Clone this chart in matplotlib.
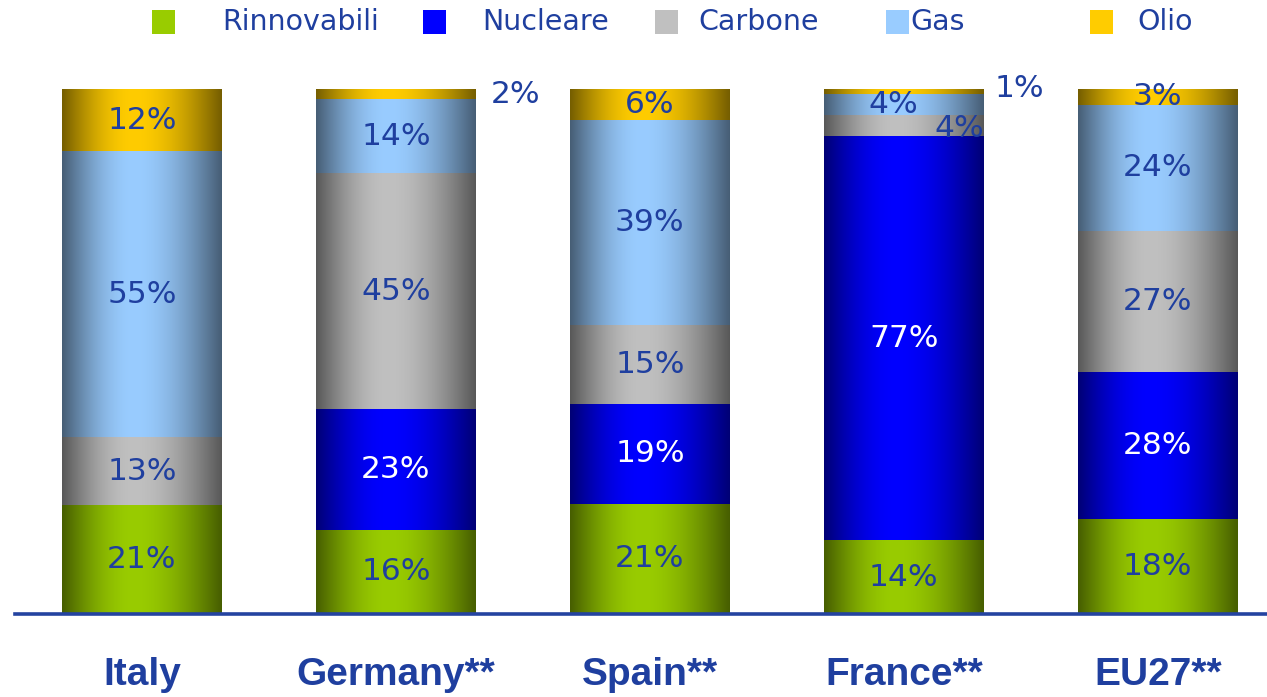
import numpy as np
import matplotlib
matplotlib.use("Agg")
import matplotlib.pyplot as plt
from matplotlib.colors import to_rgb
from matplotlib.patches import Rectangle

# ---------------- data ----------------
countries = ["Italy", "Germany**", "Spain**", "France**", "EU27**"]
series = ["Rinnovabili", "Nucleare", "Carbone", "Gas", "Olio"]
rinnovabili = [21, 16, 21, 14, 18]
nucleare = [0, 23, 19, 77, 28]
carbone = [13, 45, 15, 4, 27]
gas = [55, 14, 39, 4, 24]
olio = [12, 2, 6, 1, 3]
colors = ["#99cc00", "#0000ff", "#c0c0c0", "#99ccff", "#ffcc00"]
label_colors = ["#1f3f9f", "#ffffff", "#1f3f9f", "#1f3f9f", "#1f3f9f"]

values = np.array([rinnovabili, nucleare, carbone, gas, olio], dtype=float)
totals = values.sum(axis=0)
shares = values / totals * 100.0  # normalise each bar to full height

# label offsets (data units) for small segments: (series idx, country idx) -> (dx, dy)
label_offsets = {(4, 1): (0.47, 0.0), (4, 3): (0.455, 0.6), (2, 3): (0.22, -0.5),
                 (3, 3): (-0.04, 0.0)}

TXT = "#1f3f9f"

fig = plt.figure(figsize=(12.67, 6.97), dpi=100)
ax = fig.add_axes([15 / 1267, 83 / 697, 1252 / 1267, 525 / 697])
ax.set_xlim(-0.5, 4.43)
ax.set_ylim(0, 100)

x = np.arange(len(countries))
width = 0.63


def gradient_rgb(color, n=200):
    t = np.linspace(0, 1, n)
    c = 0.45
    s = np.where(t < c, t / c, (1 - t) / (1 - c))
    f = 0.46 + 0.54 * np.sin(np.clip(s, 0, 1) * np.pi / 2)
    rgb = np.array(to_rgb(color))
    img = f[:, None] * rgb[None, :]
    return img[None, :, :]


bottom = np.zeros(len(countries))
for i, name in enumerate(series):
    bars = ax.bar(x, shares[i], width, bottom=bottom, color=colors[i],
                  edgecolor="none", label=name, zorder=1)
    grad = gradient_rgb(colors[i])
    for j, b in enumerate(bars):
        if b.get_height() <= 0:
            continue
        x0, y0, w, h = b.get_x(), b.get_y(), b.get_width(), b.get_height()
        ax.imshow(grad, extent=(x0, x0 + w, y0, y0 + h), aspect="auto",
                  interpolation="bilinear", zorder=2)
        dx, dy = label_offsets.get((i, j), (0.0, 0.0))
        ax.text(x0 + w / 2 + dx, y0 + h / 2 + dy, f"{int(values[i, j])}%",
                ha="center", va="center", fontsize=22.5, color=label_colors[i],
                family="DejaVu Sans", zorder=4, clip_on=False)
    bottom += shares[i]

ax.set_xlim(-0.5, 4.43)
ax.set_ylim(0, 100)

# axes styling
for sp in ["top", "right", "left"]:
    ax.spines[sp].set_visible(False)
ax.spines["bottom"].set_color("#2443a0")
ax.spines["bottom"].set_linewidth(2.6)
ax.spines["bottom"].set_zorder(5)
ax.set_yticks([])
ax.set_xticks(x)
ax.set_xticklabels(countries, fontsize=28, fontweight="bold", color=TXT,
                   family=["Liberation Sans Narrow", "Liberation Sans", "DejaVu Sans"])
ax.tick_params(axis="x", length=0, pad=31)

# legend (manual placement)
leg_sq_x = [152, 423, 655, 886, 1090]
leg_tx_x = [222, 482, 698, 910, 1137]
for i, name in enumerate(series):
    fig.patches.append(Rectangle((leg_sq_x[i] / 1267, 1 - 34 / 697), 23 / 1267, 24 / 697,
                                 transform=fig.transFigure, facecolor=colors[i],
                                 edgecolor="none"))
    fig.text(leg_tx_x[i] / 1267, 1 - 22 / 697, name, ha="left", va="center",
             fontsize=20.5, color=TXT, family="DejaVu Sans")

fig.savefig("out.png", dpi=100)
